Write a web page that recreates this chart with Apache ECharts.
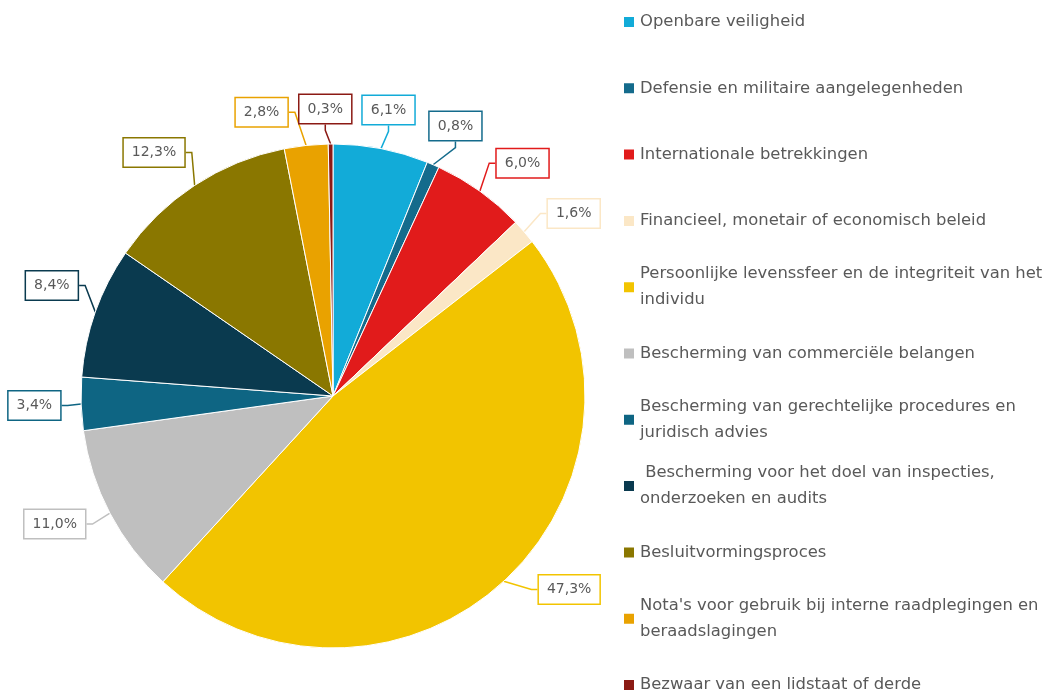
<!DOCTYPE html>
<html>
<head>
    <meta charset="utf-8" />
    <title>Weigeringsgronden</title>
    <script src="https://cdn.jsdelivr.net/npm/echarts@6/dist/echarts.min.js"></script>
</head>
<body style="margin:0;">
    <div id="main" style="width:1054px;height:691px;"></div>
    <script type="text/javascript">
        // categorieën (legenda) en aandelen in procent
        var categories = [
            'Openbare veiligheid',
            'Defensie en militaire aangelegenheden',
            'Internationale betrekkingen',
            'Financieel, monetair of economisch beleid',
            'Persoonlijke levenssfeer en de integriteit van het individu',
            'Bescherming van commerciële belangen',
            'Bescherming van gerechtelijke procedures en juridisch advies',
            ' Bescherming voor het doel van inspecties, onderzoeken en audits',
            'Besluitvormingsproces',
            "Nota's voor gebruik bij interne raadplegingen en beraadslagingen",
            'Bezwaar van een lidstaat of derde'
        ];
        var values = [6.1, 0.8, 6.0, 1.6, 47.3, 11.0, 3.4, 8.4, 12.3, 2.8, 0.3];
        var colors = ['#12abd8', '#146b8c', '#e11b1b', '#fbe7c6', '#f2c400', '#bfbfbf',
                      '#0e6583', '#0a3a4f', '#8a7700', '#e9a200', '#8b1a14'];
        // legendatekst met regeleinden zoals in het origineel
        var legendLines = {
            'Persoonlijke levenssfeer en de integriteit van het individu': 'Persoonlijke levenssfeer en de integriteit van het\nindividu',
            'Bescherming van gerechtelijke procedures en juridisch advies': 'Bescherming van gerechtelijke procedures en\njuridisch advies',
            ' Bescherming voor het doel van inspecties, onderzoeken en audits': ' Bescherming voor het doel van inspecties,\nonderzoeken en audits',
            "Nota's voor gebruik bij interne raadplegingen en beraadslagingen": "Nota's voor gebruik bij interne raadplegingen en\nberaadslagingen"
        };
        // kleine verschuiving (graden) van de callouts, zodat ze niet overlappen
        var labelShift = [0, 1, 3.5, 3.5, -8, 3, 0, 2, -3, -8, -1];

        var CX = 333, CY = 396, R = 252;
        var LH = 26; // regelhoogte legenda

        var total = 0;
        values.forEach(function (v) { total += v; });
        // middenhoek van elk segment (vanaf boven, met de klok mee)
        var midAngles = [];
        var acc = 0;
        values.forEach(function (v) {
            midAngles.push((acc + v / 2) / total * 2 * Math.PI);
            acc += v;
        });

        var pieData = [];
        var legendData = [];
        for (var i = 0; i < categories.length; i++) {
            pieData.push({
                name: categories[i],
                value: values[i],
                itemStyle: { color: colors[i] },
                label: { borderColor: colors[i] }
            });
            var twoLines = !!legendLines[categories[i]];
            legendData.push({
                name: categories[i],
                textStyle: { padding: twoLines ? [LH, 0, 0, 0] : [LH, 0, LH, 0] }
            });
        }

        var myChart = echarts.init(document.getElementById('main'));
        myChart.setOption({
            animation: false,
            legend: {
                orient: 'vertical',
                left: 622,
                top: -17,
                height: 800,
                padding: 0,
                itemGap: -11.7,
                itemWidth: 12,
                itemHeight: 12,
                icon: 'rect',
                selectedMode: false,
                formatter: function (name) {
                    return legendLines[name] || name;
                },
                textStyle: {
                    fontFamily: 'DejaVu Sans',
                    fontSize: 16.4,
                    lineHeight: LH,
                    color: '#595959'
                },
                data: legendData
            },
            series: [{
                type: 'pie',
                center: [CX, CY],
                radius: R,
                startAngle: 90,
                clockwise: true,
                avoidLabelOverlap: false,
                itemStyle: { borderColor: '#fff', borderWidth: 1 },
                label: {
                    show: true,
                    position: 'outside',
                    formatter: function (p) {
                        return p.value.toFixed(1).replace('.', ',') + '%';
                    },
                    fontFamily: 'DejaVu Sans',
                    fontSize: 14,
                    color: '#595959',
                    backgroundColor: '#fff',
                    borderWidth: 1.5,
                    padding: [7, 8]
                },
                labelLine: {
                    show: true,
                    length: 14,
                    length2: 6,
                    lineStyle: { width: 1.5 }
                },
                // callouts radiaal buiten de rand, zoals Excel
                labelLayout: function (params) {
                    var a = midAngles[params.dataIndex] + labelShift[params.dataIndex] * Math.PI / 180;
                    var dx = Math.sin(a), dy = -Math.cos(a);
                    var w = params.labelRect.width, h = params.labelRect.height;
                    var d = R + 19 + Math.abs(dx) * w / 2 + Math.abs(dy) * h / 2;
                    return {
                        x: CX + dx * d,
                        y: CY + dy * d,
                        align: 'center',
                        verticalAlign: 'middle'
                    };
                },
                data: pieData
            }]
        });
    </script>
</body>
</html>
